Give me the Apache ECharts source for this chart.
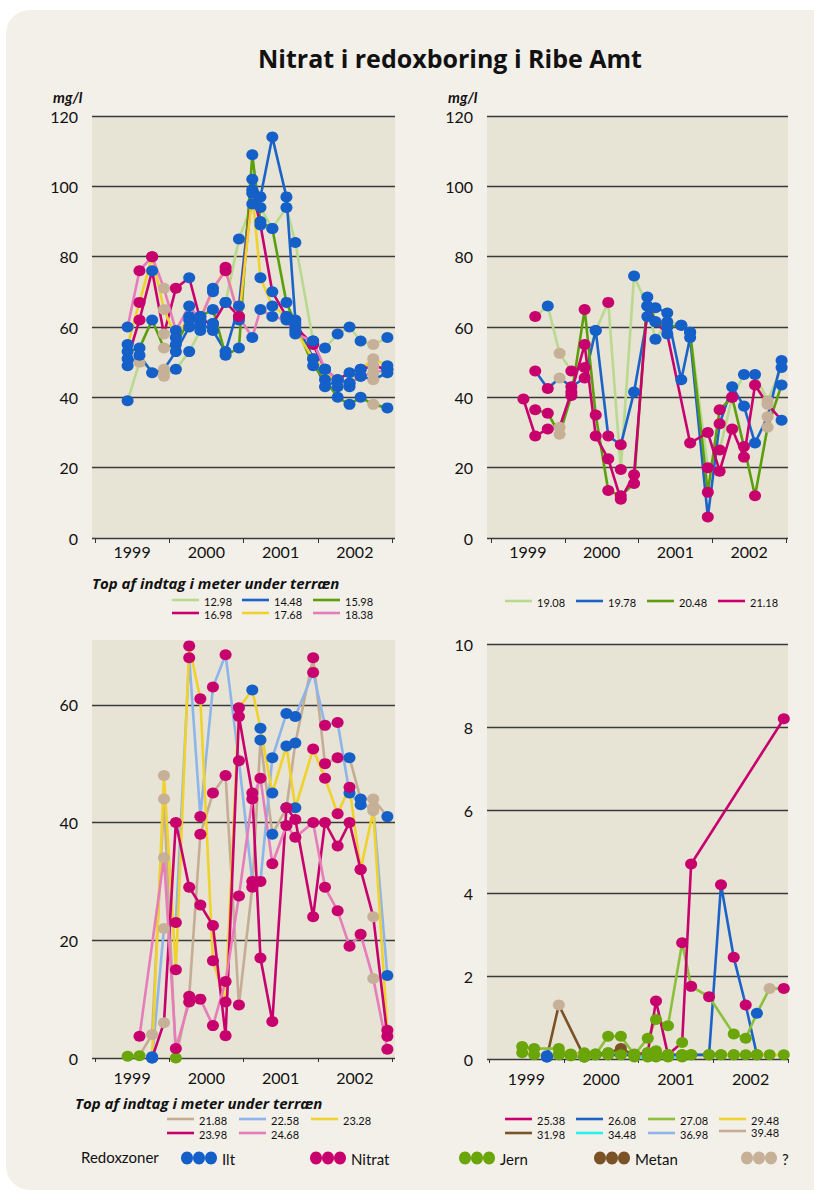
<!DOCTYPE html>
<html><head><meta charset="utf-8">
<script src="https://cdn.jsdelivr.net/npm/echarts@6/dist/echarts.min.js"></script>
<style>
html,body{margin:0;padding:0;background:#ffffff;}
#card{position:absolute;left:6px;top:10px;width:840px;height:1180px;background:#f3f0e9;border-radius:24px;}
#chart{position:absolute;left:0;top:0;width:814px;height:1194px;}
</style></head><body><div id="card"></div><div id="chart"></div>
<script>
// sampling times (decimal years)
const T = [1999.44,1999.60,1999.77,1999.93,2000.09,2000.27,2000.42,2000.59,2000.76,2000.94,2001.12,2001.23,2001.39,2001.58,2001.70,2001.94,2002.10,2002.27,2002.43,2002.58,2002.75,2002.94];
const YEARS = ['1999','2000','2001','2002'];
// zone codes: B=Ilt, M=Nitrat, G=Jern, R=Metan, T=?  ('-' = no sample)
// Panel 1 (mg/l)
const p1_1298 = [39,50,null,46,48,53,59,61,67,85,95,94,88,94,84,56,54,58,60,56,55,57];
const p1_1298_z = "BT-TBBBBBBBBBBBBBBBBTB";
const p1_1448 = [49,52,47,48,53,60,61,59,53,66,102,97,114,97,62,51,43,45,44,46,45,47];
const p1_1448_z = "BBBTBBBBBBBBBBBBBBBBTB";
const p1_1598 = [53,54,62,54,55,62,63,65,52,54,109,90,88,67,61,49,45,40,38,40,38,37];
const p1_1598_z = "BBBTBBBBBBBBBBBBBBBBTB";
const p1_1698 = [51,62,76,58,71,74,62,61,67,63,99,89,70,63,60,55,48,45,47,48,49,48];
const p1_1698_z = "BMBTMBBBBMBBBBBMBBBBTB";
const p1_1768 = [55,67,80,65,57,63,63,70,77,62,98,74,66,63,59,51,48,43,43,48,51,49];
const p1_1768_z = "BMMTBBBBMBBBBBBBBBBBTB";
const p1_1838 = [60,76,80,71,59,66,62,71,76,63,57,65,63,62,58,56,48,45,44,46,47,48];
const p1_1838_z = "BMMTBBBBMMBBBBBBBBBBTB";
// Panel 2
const p2_1908 = [null,63,66,52.5,47.5,48.5,59,67,19.5,74.5,66,56.5,61.5,60.5,58.5,20,25,40,46.5,46.5,39,48.5];
const p2_1908_z = "-MBTMMBMMBBBBBBMMMBBTB";
const p2_1978 = [null,47.5,42.5,45.5,43,45.5,59,29,26.5,41.5,63,65.5,64,45,57,6,32.5,43,37.5,27,34.5,50.5];
const p2_1978_z = "-MMTMMBMMBBBBBBMMBBBTB";
const p2_2048 = [null,36.5,35.5,29.5,40.5,65,35,13.5,12,15.5,68.5,61.5,60,60.5,58.5,13,36.5,40,26,12,31.5,43.5];
const p2_2048_z = "-MMTMMMMMMBBBBBMMMMMTB";
const p2_2118 = [39.5,29,31,31.5,41.5,55,29,22.5,11,18,66,61.5,58,null,27,30,19,31,23,43.5,38,33.5];
const p2_2118_z = "MMMTMMMMMMBBB-MMMMMMTB";
// Panel 3
const p3_2188 = [0.3,0.4,4,44,0,10.5,38,45,48,9,29,54,38,42.5,53.5,68,50,51,51,44,44,41];
const p3_2188_z = "GGTTGMMMMMMBBBBMMMBBTB";
const p3_2258 = [null,null,0,22,23,68,41,63,68.5,50.5,30,30,51,58.5,58,65.5,56.5,57,45,43,42.5,14];
const p3_2258_z = "--BTMMMMMMMMBBBMMMBBTB";
const p3_2328 = [null,null,0.2,48,15,70,61,16.5,9.5,59.5,62.5,56,45,53,42.5,52.5,47.5,41.5,46,32,42,4.7];
const p3_2328_z = "--BTMMMMMMBBBBBMMMMMTM";
const p3_2398 = [null,null,0,6,40,29,26,22.5,3.8,58,45,17,6.2,42.5,40.5,24,40,36,40,32,24,3.7];
const p3_2398_z = "--BTMMMMMMMMMMMMMMMMTM";
const p3_2468 = [null,3.7,null,34,1.6,9.5,10,5.5,13,27.5,44,47.5,33,39.5,37.5,40,29,25,19,21,13.5,1.5];
const p3_2468_z = "-M-TMMMMMMMMMMMMMMMMTM";
// Panel 4
const p4_2538 = [null,null,null,null,null,null,null,null,null,0.1,0.15,1.4,0.1,0.4,4.7,null,null,null,null,null,null,8.2];
const p4_2538_z = "---------GGMGGM------M";
const p4_2608 = [null,null,0.05,0.1,0.08,0.05,0.1,0.1,0.1,0.1,0.15,0.1,0.1,0.1,0.1,0.1,4.2,2.45,1.3,0.1,null,null];
const p4_2608_z = "--BGGGGGGGGGGGGGMMMG--";
const p4_2708 = [0.3,0.25,null,0.25,0.1,0.05,0.1,0.55,0.55,0.1,0.5,0.95,0.8,2.8,1.75,1.5,null,0.6,0.5,1.1,1.7,1.7];
const p4_2708_z = "GG-GGGGGGGGGGMMM-GGBTM";
const p4_2948 = [0.15,0.1,null,0.1,0.1,null,0.1,0.1,0.1,0.1,0.15,0.2,0.1,0.1,0.1,0.1,0.1,0.1,null,0.1,0.1,0.1];
const p4_2948_z = "GG-GG-GGGGGGGGGGGG-GGG";
const p4_3198 = [null,null,0.05,1.3,null,0.05,0.12,0.15,0.25,0.1,null,null,null,null,null,null,null,null,null,null,null,null];
const p4_3198_z = "--BT-GGGRG------------";
const p4_3448 = [null,null,null,null,null,null,null,null,null,0.05,0.05,0.05,0.05,0.05,null,null,null,null,null,null,null,null];
const p4_3448_z = "---------GGGGG--------";
const p4_3698 = [null,null,0.08,0.12,0.08,null,null,null,null,null,null,null,null,null,null,null,null,null,null,null,null,null];
const p4_3698_z = "--BGG-----------------";
const p4_3948 = [null,null,null,null,0.12,0.15,0.12,0.15,0.15,0.12,0.1,0.1,0.1,0.1,0.1,0.1,0.1,0.1,0.1,0.1,null,null];
const p4_3948_z = "----GGGGGGGGGGGGGGGG--";

const C = {lg:'#b9d98f', bl:'#1a63c9', dg:'#5c9e0c', mg:'#c8006e', ye:'#f0d22c', pk:'#e67cb9', tn:'#c5ad95', lb:'#8db5e9', g2:'#8cc03c', br:'#7a5226', cy:'#28f0f0'};
const ZC = {B:'#1560c8', M:'#c8006e', G:'#6aa50a', R:'#7a5226', T:'#c7b098'};

const panels = [
  {series:[['12.98',p1_1298,p1_1298_z,C.lg],['14.48',p1_1448,p1_1448_z,C.bl],['15.98',p1_1598,p1_1598_z,C.dg],['16.98',p1_1698,p1_1698_z,C.mg],['17.68',p1_1768,p1_1768_z,C.ye],['18.38',p1_1838,p1_1838_z,C.pk]],
   data:{left:92,top:116,width:303,height:422}, tick:{left:95,width:297}, xr:[1998.960,2003.043], ymax:120, yint:20, tickOff:3, tickLen:5, labMargin:2},
  {series:[['19.08',p2_1908,p2_1908_z,C.lg],['19.78',p2_1978,p2_1978_z,C.bl],['20.48',p2_2048,p2_2048_z,C.dg],['21.18',p2_2118,p2_2118_z,C.mg]],
   data:{left:487,top:116,width:301,height:422}, tick:{left:491,width:295}, xr:[1998.946,2003.027], ymax:120, yint:20, tickOff:3, tickLen:5, labMargin:2},
  {series:[['21.88',p3_2188,p3_2188_z,C.tn],['22.58',p3_2258,p3_2258_z,C.lb],['23.28',p3_2328,p3_2328_z,C.ye],['23.98',p3_2398,p3_2398_z,C.mg],['24.68',p3_2468,p3_2468_z,C.pk]],
   data:{left:92,top:640,width:303,height:418}, tick:{left:95,width:297}, xr:[1998.960,2003.043], ymax:71, yint:20, tickOff:5, tickLen:4, labMargin:6},
  {series:[['39.48',p4_3948,p4_3948_z,C.tn],['36.98',p4_3698,p4_3698_z,C.lb],['34.48',p4_3448,p4_3448_z,C.cy],['29.48',p4_2948,p4_2948_z,C.ye],['31.98',p4_3198,p4_3198_z,C.br],['26.08',p4_2608,p4_2608_z,C.bl],['27.08',p4_2708,p4_2708_z,C.g2],['25.38',p4_2538,p4_2538_z,C.mg]],
   data:{left:487,top:644,width:301,height:415}, tick:{left:489,width:299}, xr:[1998.969,2002.996], ymax:10, yint:2, tickOff:5, tickLen:4, labMargin:6}
];

const FONT = 'Lato, "Open Sans", sans-serif';
const grid = [], xAxis = [], yAxis = [], series = [];
panels.forEach((p, i) => {
  const g = i*2;
  grid.push({left:p.data.left, top:p.data.top, width:p.data.width, height:p.data.height, show:true, backgroundColor:'#e7e3d5', borderWidth:0});
  grid.push({left:p.tick.left, top:p.data.top, width:p.tick.width, height:p.data.height, show:false});
  xAxis.push({type:'value', gridIndex:g, min:p.xr[0], max:p.xr[1], show:false});
  xAxis.push({type:'category', gridIndex:g+1, data:YEARS, boundaryGap:true, offset:p.tickOff,
    axisLine:{show:false}, axisTick:{show:true, length:p.tickLen, lineStyle:{color:'#333', width:1}},
    axisLabel:{fontSize:16, color:'#111', fontFamily:FONT, margin:p.labMargin}, splitLine:{show:false}});
  yAxis.push({type:'value', gridIndex:g, min:0, max:p.ymax, interval:p.yint,
    axisLine:{show:false}, axisTick:{show:false},
    axisLabel:{fontSize:16, color:'#111', fontFamily:FONT, margin:14, showMaxLabel: p.ymax % p.yint === 0},
    splitLine:{show:true, showMaxLine: p.ymax % p.yint === 0, lineStyle:{color:'#3a3a3a', width:1.3}}});
  yAxis.push({type:'value', gridIndex:g+1, show:false, min:0, max:p.ymax});
  const pts = [];
  p.series.forEach(s => {
    const [name, vals, zones, col] = s;
    const d = [];
    vals.forEach((v, k) => { if (v !== null) { d.push([T[k], v]); pts.push({value:[T[k], v], itemStyle:{color:ZC[zones[k]], opacity:1}}); } });
    series.push({type:'line', name, xAxisIndex:g, yAxisIndex:g, data:d, showSymbol:false, symbol:'none',
      lineStyle:{color:col, width:2.6}, silent:true, z:2, animation:false});
  });
  series.push({type:'scatter', xAxisIndex:g, yAxisIndex:g, data:pts, symbol:'circle', symbolSize:[12,11], itemStyle:{opacity:1}, z:3, silent:true, animation:false});
});

// graphic legends & texts
const G = [];
function txt(x, y, text, font, opts) {
  G.push({type:'text', x, y, style:Object.assign({text, font, fill:'#111', verticalAlign:'middle', align:'left'}, opts||{})});
}
function lg(x, y, col, label) {
  G.push({type:'line', shape:{x1:x, y1:y, x2:x+27, y2:y}, style:{stroke:col, lineWidth:2.6}});
  txt(x+32, y+1, label, '11px ' + FONT);
}
txt(450, 58, 'Nitrat i redoxboring i Ribe Amt', 'bold 25px "Open Sans", Lato, sans-serif', {align:'center'});
txt(53, 97, 'mg/l', 'italic bold 15px ' + FONT);
txt(448, 97, 'mg/l', 'italic bold 15px ' + FONT);
txt(92, 583, 'Top af indtag i meter under terræn', 'italic bold 15px "Open Sans", Lato, sans-serif');
txt(75, 1103, 'Top af indtag i meter under terræn', 'italic bold 15px "Open Sans", Lato, sans-serif');
// panel 1 legend
lg(172, 600, C.lg, '12.98'); lg(242, 600, C.bl, '14.48'); lg(313, 600, C.dg, '15.98');
lg(172, 613, C.mg, '16.98'); lg(242, 613, C.ye, '17.68'); lg(313, 613, C.pk, '18.38');
// panel 2 legend
lg(505, 601, C.lg, '19.08'); lg(576, 601, C.bl, '19.78'); lg(647, 601, C.dg, '20.48'); lg(718, 601, C.mg, '21.18');
// panel 3 legend
lg(167, 1119, C.tn, '21.88'); lg(239, 1119, C.lb, '22.58'); lg(311, 1119, C.ye, '23.28');
lg(167, 1133, C.mg, '23.98'); lg(239, 1133, C.pk, '24.68');
// panel 4 legend
lg(505, 1119, C.mg, '25.38'); lg(576, 1119, C.bl, '26.08'); lg(648, 1119, C.g2, '27.08'); lg(719, 1119, C.ye, '29.48');
lg(505, 1133, C.br, '31.98'); lg(576, 1133, C.cy, '34.48'); lg(648, 1133, C.lb, '36.98'); lg(719, 1131, C.tn, '39.48');
// redox zones legend
txt(81, 1157, 'Redoxzoner', '15px ' + FONT);
const RZ = [[187,'B','Ilt'],[316,'M','Nitrat'],[465,'G','Jern'],[600,'R','Metan'],[747,'T','?']];
RZ.forEach(r => {
  for (let k = 0; k < 3; k++) G.push({type:'ellipse', shape:{cx:r[0]+k*12, cy:1158, rx:6, ry:6.5}, style:{fill:ZC[r[1]]}});
  txt(r[0]+35, 1159, r[2], '15px ' + FONT);
});

const chart = echarts.init(document.getElementById('chart'), null, {renderer:'svg'});
chart.setOption({backgroundColor:'transparent', animation:false, grid, xAxis, yAxis, series, graphic:G});
</script></body></html>
